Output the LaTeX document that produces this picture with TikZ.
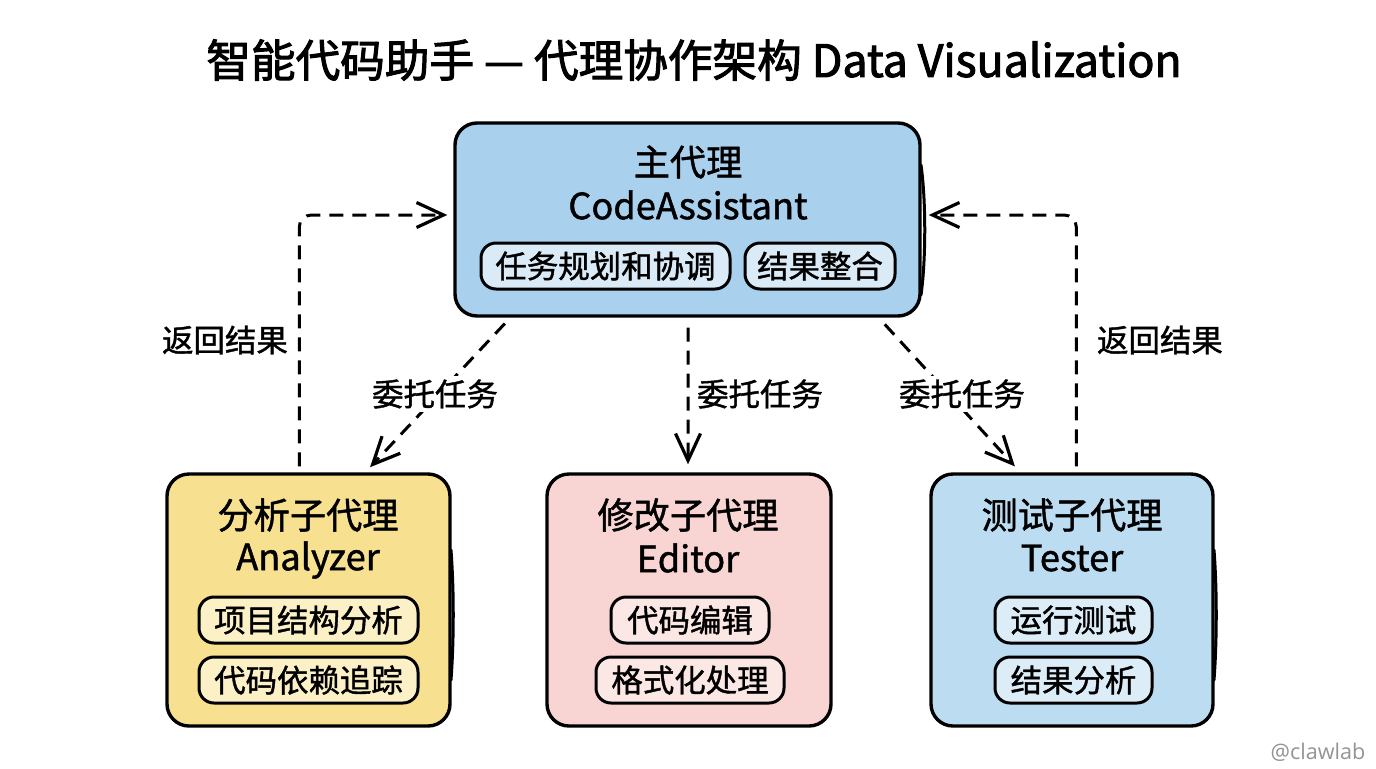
\documentclass[tikz,border=0pt]{standalone}
\usepackage{fontspec}
\usepackage{xcolor}
\setmainfont[FakeBold=1.3]{Noto Sans CJK SC}
\newfontfamily\titlefont[FakeBold=2.2]{Noto Sans CJK SC}
\newfontfamily\markfont{Open Sans}
\usetikzlibrary{arrows.meta,positioning,calc}

\def\px{0.02cm}
\definecolor{mainblue}{HTML}{A9D1EE}
\definecolor{mainpill}{HTML}{DAEAF6}
\definecolor{sandfill}{HTML}{F7E08F}
\definecolor{sandpill}{HTML}{FBF0C6}
\definecolor{rosefill}{HTML}{F8D5D2}
\definecolor{rosepill}{HTML}{FBE8E5}
\definecolor{skyfill}{HTML}{BBDCF1}
\definecolor{skypill}{HTML}{DCEDF8}

\tikzset{
    agentbox/.style={draw=black, line width=3.4*\px, rounded corners=22*\px, inner sep=0pt},
    toolpill/.style={draw=black, line width=3*\px, rounded corners=15*\px, inner sep=0pt,
        minimum height=46*\px, font=\fontsize{17.9pt}{20pt}\selectfont},
    headtext/.style={font=\fontsize{20.6pt}{24pt}\selectfont},
    nametext/.style={font=\fontsize{20.6pt}{24pt}\selectfont},
    edgetext/.style={font=\fontsize{17.9pt}{20pt}\selectfont},
    flowline/.style={line width=3*\px, dash pattern=on 14*\px off 9*\px,
        -{Straight Barb[length=27*\px,width=25*\px,line width=3.2*\px]}},
    redraw/.style={line width=3*\px, line cap=round}
}

\begin{document}
\begin{tikzpicture}[x=0.02cm,y=-0.02cm]
    \useasboundingbox (0,0) rectangle (1376,768);

    % Title
    \node[font=\titlefont\fontsize{25.4pt}{30pt}\selectfont] (title) at (694,60) {智能代码助手 — 代理协作架构 Data Visualization};

    % Main agent
    \node[agentbox, fill=mainblue, minimum width=465*\px, minimum height=193*\px] (main) at (687.5,219.5) {};
    \draw[redraw] (921,165) .. controls (926,200) and (926,260) .. (921,295);
    \node[headtext] (mainhead) at (688,162) {主代理};
    \node[nametext] (mainname) at (688,205) {CodeAssistant};
    \node[toolpill, fill=mainpill, minimum width=249*\px] (plan) at (605.5,266) {任务规划和协调};
    \node[toolpill, fill=mainpill, minimum width=150*\px] (merge) at (820,266) {结果整合};

    % Analyzer
    \node[agentbox, fill=sandfill, minimum width=283*\px, minimum height=252*\px] (analyzer) at (308.5,600) {};
    \draw[redraw] (451,550) .. controls (454,590) and (454,640) .. (451,680);
    \node[headtext] (anahead) at (308,515) {分析子代理};
    \node[nametext] (ananame) at (308,560) {Analyzer};
    \node[toolpill, fill=sandpill, minimum width=219*\px] (scan) at (308.5,620) {项目结构分析};
    \node[toolpill, fill=sandpill, minimum width=219*\px] (trace) at (308.5,680) {代码依赖追踪};

    % Editor
    \node[agentbox, fill=rosefill, minimum width=284*\px, minimum height=252*\px] (editor) at (689,600) {};
    \node[headtext] (edithead) at (688,515) {修改子代理};
    \node[nametext] (editname) at (688,558) {Editor};
    \node[toolpill, fill=rosepill, minimum width=158*\px] (edit) at (690,620) {代码编辑};
    \node[toolpill, fill=rosepill, minimum width=188*\px] (format) at (690,680) {格式化处理};

    % Tester
    \node[agentbox, fill=skyfill, minimum width=282*\px, minimum height=252*\px] (tester) at (1072,600) {};
    \draw[redraw] (1214,550) .. controls (1217,590) and (1217,640) .. (1214,680);
    \node[headtext] (testhead) at (1072,515) {测试子代理};
    \node[nametext] (testname) at (1072,558) {Tester};
    \node[toolpill, fill=skypill, minimum width=157*\px] (run) at (1073.5,620) {运行测试};
    \node[toolpill, fill=skypill, minimum width=157*\px] (review) at (1073.5,680) {结果分析};

    % Delegation
    \draw[flowline, shorten <=8*\px, shorten >=7*\px] ([xshift=57*\px]main.south west) -- ([xshift=200*\px]analyzer.north west);
    \draw[flowline, shorten <=10*\px, shorten >=8*\px] ([xshift=0.5*\px]main.south) -- ([xshift=-1*\px]editor.north);
    \draw[flowline, shorten <=9*\px, shorten >=8*\px] ([xshift=-43*\px]main.south east) -- ([xshift=91*\px]tester.north west);
    \node[edgetext, fill=white, inner sep=2pt] (askleft) at (435,394) {委托任务};
    \node[edgetext, fill=white, inner sep=2pt] (askmid) at (760,394) {委托任务};
    \node[edgetext, fill=white, inner sep=2pt] (askright) at (962,394) {委托任务};

    % Results back
    \draw[flowline, rounded corners=12*\px, shorten <=6*\px, shorten >=6*\px] ([xshift=134*\px]analyzer.north west) |- ([yshift=4.5*\px]main.west);
    \draw[flowline, rounded corners=12*\px, shorten <=6*\px, shorten >=7*\px] ([xshift=147*\px]tester.north west) |- ([yshift=4.5*\px]main.east);
    \node[edgetext] (backleft) at (225,340) {返回结果};
    \node[edgetext] (backright) at (1160,340) {返回结果};

    % Watermark
    \node[font=\markfont\fontsize{12.3pt}{14pt}\selectfont, text=black!42] (mark) at (1318,752) {@clawlab};
\end{tikzpicture}
\end{document}
